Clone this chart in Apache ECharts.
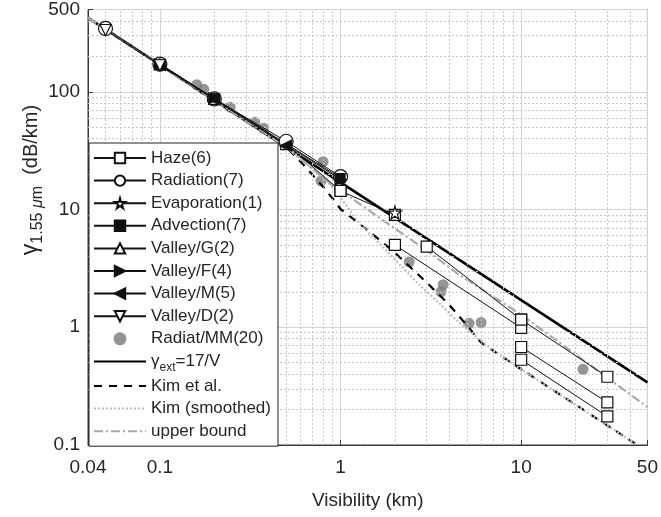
<!DOCTYPE html>
<html>
<head>
<meta charset="utf-8">
<script src="https://cdn.jsdelivr.net/npm/echarts@6/dist/echarts.min.js"></script>
<style>
html, body { margin: 0; padding: 0; background: #ffffff; }
#chart { width: 661px; height: 517px; }
</style>
</head>
<body>
<div id="chart"></div>
<script>
// Axis ranges and minor grid positions
const xRange = [0.04, 50];
const yRange = [0.1, 500];
const xMinor = [0.05, 0.06, 0.07, 0.08, 0.09, 0.2, 0.3, 0.4, 0.5, 0.6, 0.7, 0.8, 0.9,
                2, 3, 4, 5, 6, 7, 8, 9, 20, 30, 40];
const yMinor = [0.2, 0.3, 0.4, 0.5, 0.6, 0.7, 0.8, 0.9, 2, 3, 4, 5, 6, 7, 8, 9,
                20, 30, 40, 50, 60, 70, 80, 90, 200, 300, 400];

// Measured fog events: [visibility km, attenuation dB/km]
const hazeEvents = [
  [[0.5, 36], [1, 14.4]],
  [[1, 14.4], [2, 9]],
  [[3, 4.85], [10, 1.16]],
  [[2, 5], [10, 0.99]],
  [[10, 0.68], [30, 0.23]],
  [[10, 0.53], [30, 0.175]],
  [[10, 1.16], [30, 0.38]]
];
const radiation = [[0.05, 345], [0.1, 172], [0.2, 87], [0.5, 38], [1, 19]];
const evaporation = [[2, 9.4]];
const advection = [[0.1, 170], [0.2, 88], [1, 18.5]];
const valleyG = [[0.1, 172], [0.2, 87]];
const valleyF = [[0.1, 171], [0.2, 88], [1, 18]];
const valleyM = [[0.1, 169], [0.2, 86], [0.5, 35]];
const valleyD = [[0.05, 335], [0.1, 168]];
const radiatMM = [[0.16, 115], [0.175, 105], [0.245, 74], [0.335, 55], [0.375, 49],
                  [0.48, 37], [0.8, 25.5], [0.78, 17.5], [2.4, 3.6], [3.7, 2.3],
                  [3.6, 2.0], [5.15, 1.08], [6, 1.1], [22, 0.44]];

// Model curves
const extVis = [0.04, 50];
const extGamma = [425, 0.34];
const kimVis = [0.04, 0.5, 0.6, 0.7, 0.8, 0.9, 1, 1.5, 2, 3, 4, 5, 6, 10, 20, 44];
const kimGamma = [425, 34, 25.6, 19.7, 15.6, 12.5, 10.1, 6.2, 4.3, 2.4, 1.55, 1.04, 0.74, 0.44, 0.22, 0.1];
const kimSmVis = [0.04, 0.5, 0.7, 0.9, 1.28, 1.87, 2.73, 3.52, 4.54, 6.94, 10, 20, 44];
const kimSmGamma = [425, 34, 22, 15.6, 7.6, 4.2, 2.3, 1.6, 1.1, 0.645, 0.44, 0.22, 0.1];
const upperVis = [0.04, 0.5, 0.87, 2, 3, 4.54, 10, 50];
const upperGamma = [425, 34, 16.8, 6.9, 4.5, 2.79, 1.28, 0.21];

const zip = (a, b) => a.map((v, i) => [v, b[i]]);
const FONT = '"Liberation Sans", Arial, sans-serif';
const TXT = '#262626';
const NOFILL = 'rgba(0,0,0,0)';

const symStar = 'path://M50,0 L61,35 L98,35 L68,57 L79,91 L50,70 L21,91 L32,57 L2,35 L39,35 Z';
const symRight = 'path://M0,0 L100,50 L0,100 Z';
const symLeft = 'path://M100,0 L0,50 L100,100 Z';
const symDown = 'path://M0,0 L100,0 L50,87 Z';

const thin = { color: '#111', width: 1 };
function marked(name, data, symbol, size, fill) {
  return {
    name, type: 'line', data, symbol, symbolSize: size, z: 5,
    lineStyle: thin,
    itemStyle: { color: fill, borderColor: '#111', borderWidth: 1.2 },
    showAllSymbol: true
  };
}
function curve(name, data, lineStyle, extra) {
  return Object.assign({
    name, type: 'line', data, symbol: 'none', z: 4,
    lineStyle, itemStyle: { color: NOFILL, borderColor: NOFILL }
  }, extra || {});
}

const series = [];

// minor grid: dotted lines at 2..9 of each decade
series.push({
  name: 'grid', type: 'line', data: [[1, 1]], symbol: 'none', silent: true,
  lineStyle: { opacity: 0 }, z: 1,
  markLine: {
    silent: true, symbol: 'none', label: { show: false }, animation: false,
    lineStyle: { color: '#c8c8c8', type: [2, 2], width: 1 },
    emphasis: { disabled: true },
    data: xMinor.map(v => ({ xAxis: v })).concat(yMinor.map(v => ({ yAxis: v })))
  }
});

series.push({
  name: 'Radiat/MM(20)', type: 'scatter', data: radiatMM, symbol: 'circle',
  symbolSize: 11, z: 3, itemStyle: { color: '#7a7a7a' }
});

series.push(curve('ext', zip(extVis, extGamma), { color: '#000', width: 2.6 }));
series.push(curve('Kim et al.', zip(kimVis, kimGamma), { color: '#000', width: 2.2, type: [8, 7] }));
series.push(curve('Kim (smoothed)', zip(kimSmVis, kimSmGamma),
  { color: '#bdbdbd', width: 2.2, type: [2, 2] }, { smooth: 0.3 }));
series.push(curve('upper bound', zip(upperVis, upperGamma),
  { color: '#a8a8a8', width: 2.2, type: [9, 3, 2, 3] }));

hazeEvents.forEach(ev => series.push(marked('Haze(6)', ev, 'rect', 11, '#fff')));
series.push(marked('Radiation(7)', radiation, 'circle', 14, '#fff'));
series.push(marked('Evaporation(1)', evaporation, symStar, 13, '#fff'));
series.push(marked('Advection(7)', advection, 'rect', 9, '#111'));
series.push(marked('Valley/G(2)', valleyG, 'triangle', 11, '#fff'));
series.push(marked('Valley/F(4)', valleyF, symRight, 11, '#111'));
series.push(marked('Valley/M(5)', valleyM, symLeft, 11, '#111'));
series.push(marked('Valley/D(2)', valleyD, symDown, 11, '#fff'));

const legendNames = ['Haze(6)', 'Radiation(7)', 'Evaporation(1)', 'Advection(7)', 'Valley/G(2)',
  'Valley/F(4)', 'Valley/M(5)', 'Valley/D(2)', 'Radiat/MM(20)', 'ext', 'Kim et al.',
  'Kim (smoothed)', 'upper bound'];

const chart = echarts.init(document.getElementById('chart'), null, { renderer: 'canvas' });
chart.setOption({
  animation: false,
  backgroundColor: '#fff',
  grid: { left: 88, right: 13, top: 9, bottom: 72, show: true, borderColor: '#3a3a3a', borderWidth: 1 },
  xAxis: {
    type: 'log', logBase: 10, min: xRange[0], max: xRange[1],
    axisLine: { show: true, onZero: false, lineStyle: { color: '#3a3a3a', width: 1 } },
    axisTick: { show: true, inside: true, length: 5, lineStyle: { color: '#3a3a3a' } },
    splitLine: { show: true, lineStyle: { color: '#d4d4d4', width: 1 } },
    axisLabel: { fontFamily: FONT, fontSize: 19, color: TXT, margin: 13,
      formatter: v => String(+Number(v).toPrecision(3)) },
    name: 'Visibility (km)', nameLocation: 'middle', nameGap: 46,
    nameTextStyle: { fontFamily: FONT, fontSize: 19, color: TXT }
  },
  yAxis: {
    type: 'log', logBase: 10, min: yRange[0], max: yRange[1],
    axisLine: { show: true, onZero: false, lineStyle: { color: '#3a3a3a', width: 1 } },
    axisTick: { show: true, inside: true, length: 5, lineStyle: { color: '#3a3a3a' } },
    splitLine: { show: true, lineStyle: { color: '#d4d4d4', width: 1 } },
    axisLabel: { fontFamily: FONT, fontSize: 19, color: TXT, margin: 8,
      formatter: v => String(+Number(v).toPrecision(3)) }
  },
  legend: {
    data: legendNames,
    z: 20, zlevel: 0,
    orient: 'vertical', left: 89, top: 143,
    backgroundColor: '#fff', borderColor: '#222', borderWidth: 1,
    padding: [5, 7, 5, 4],
    itemWidth: 52, itemHeight: 13, itemGap: 2.6,
    selectedMode: false,
    textStyle: {
      fontFamily: FONT, fontSize: 17, color: TXT, lineHeight: 20,
      rich: {
        g: { fontFamily: FONT, fontSize: 17, color: TXT },
        s: { fontFamily: FONT, fontSize: 12, color: TXT, padding: [12, 0, 0, 0] },
        t: { fontFamily: FONT, fontSize: 17, color: TXT }
      }
    },
    formatter: n => n === 'ext' ? '{g|γ}{s|ext}{t|=17/V}' : n
  },
  graphic: [{
    type: 'text', x: 31, y: 180, rotation: Math.PI / 2, z: 30,
    style: {
      text: '{g|γ}{s|1.55 }{m|μ}{s|m}{t|  (dB/km)}',
      align: 'center', verticalAlign: 'middle',
      rich: {
        g: { fontFamily: FONT, fontSize: 23, fill: TXT },
        s: { fontFamily: FONT, fontSize: 16, fill: TXT, padding: [14, 0, 0, 0] },
        m: { fontFamily: FONT, fontSize: 16, fontStyle: 'italic', fill: TXT, padding: [14, 0, 0, 0] },
        t: { fontFamily: FONT, fontSize: 20, fill: TXT }
      }
    }
  }],
  series
});
</script>
</body>
</html>
